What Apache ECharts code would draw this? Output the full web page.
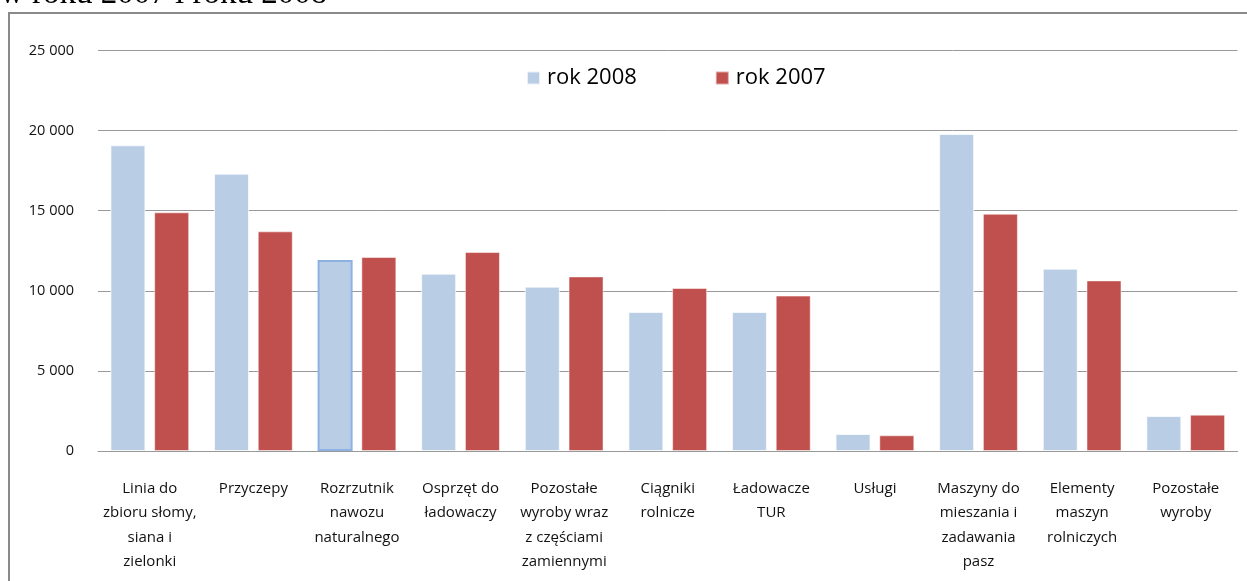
<!DOCTYPE html>
<html>
<head>
<meta charset="utf-8">
<script src="https://cdn.jsdelivr.net/npm/echarts@6/dist/echarts.min.js"></script>
<style>
html,body{margin:0;padding:0;background:#fff;}
#c{width:1247px;height:581px;}
</style>
</head>
<body>
<div id="c"></div>
<script>
var categories = [
  "Linia do\nzbioru słomy,\nsiana i\nzielonki",
  "Przyczepy",
  "Rozrzutnik\nnawozu\nnaturalnego",
  "Osprzęt do\nładowaczy",
  "Pozostałe\nwyroby wraz\nz częściami\nzamiennymi",
  "Ciągniki\nrolnicze",
  "Ładowacze\nTUR",
  "Usługi",
  "Maszyny do\nmieszania i\nzadawania\npasz",
  "Elementy\nmaszyn\nrolniczych",
  "Pozostałe\nwyroby"
];
var seriesNames = ["rok 2008", "rok 2007"];
var values2008 = [19080, 17310, 11920, 11070, 10260, 8680, 8680, 1060, 19790, 11380, 2185];
var values2007 = [14900, 13710, 12110, 12420, 10900, 10175, 9700, 980, 14810, 10650, 2270];
var yTicks = [0, 5000, 10000, 15000, 20000, 25000];
var headingText = "w roku 2007 i roku 2008";

var chart = echarts.init(document.getElementById('c'), null, {renderer: 'canvas'});
var FONT = '"Open Sans", "Noto Sans", sans-serif';

function fmt(v) { return String(v).replace(/\B(?=(\d{3})+(?!\d))/g, ' '); }

var data2008 = values2008.map(function (v, i) {
  if (i === 2) {
    return {value: v, itemStyle: {borderColor: '#8eb1e3', borderWidth: 2}};
  }
  return v;
});

var option = {
  animation: false,
  backgroundColor: '#ffffff',
  graphic: [
    {
      type: 'rect', silent: true, z: -1,
      shape: {x: 9, y: 13, width: 1260, height: 600},
      style: {fill: 'none', stroke: '#8a8a8a', lineWidth: 2}
    },
    {
      type: 'text', silent: true, x: 0, y: -6,
      style: {text: headingText, font: '33px "Liberation Serif", serif', fill: '#000', verticalAlign: 'middle', align: 'left'}
    }
  ],
  legend: {
    data: seriesNames,
    left: 526,
    top: 67,
    padding: 0,
    itemWidth: 13,
    itemHeight: 13,
    itemGap: 78,
    icon: 'rect',
    textStyle: {fontFamily: FONT, fontSize: 22, color: '#000', padding: [0, 0, 0, 2]}
  },
  grid: {left: 98, right: 9.5, top: 50.5, bottom: 130, containLabel: false},
  xAxis: {
    type: 'category',
    data: categories,
    axisTick: {show: false},
    axisLine: {lineStyle: {color: '#999999', width: 1}},
    axisLabel: {
      interval: 0,
      margin: 25,
      fontFamily: FONT,
      fontSize: 15,
      lineHeight: 24.5,
      color: '#111',
      align: 'center'
    }
  },
  yAxis: {
    type: 'value',
    min: yTicks[0],
    max: yTicks[yTicks.length - 1],
    interval: yTicks[1] - yTicks[0],
    axisLine: {show: false},
    axisTick: {show: false},
    splitLine: {lineStyle: {color: '#999999', width: 1}},
    axisLabel: {
      margin: 24,
      fontFamily: FONT,
      fontSize: 14.5,
      color: '#111',
      formatter: fmt
    }
  },
  series: [
    {
      name: seriesNames[0],
      type: 'bar',
      data: data2008,
      barWidth: 35,
      barGap: '25%',
      itemStyle: {color: '#b9cde5', borderColor: 'rgba(255,255,255,0.7)', borderWidth: 1}
    },
    {
      name: seriesNames[1],
      type: 'bar',
      data: values2007,
      barWidth: 35,
      barGap: '25%',
      itemStyle: {color: '#c0504d', borderColor: 'rgba(255,255,255,0.5)', borderWidth: 1}
    }
  ]
};
chart.setOption(option);
</script>
</body>
</html>
